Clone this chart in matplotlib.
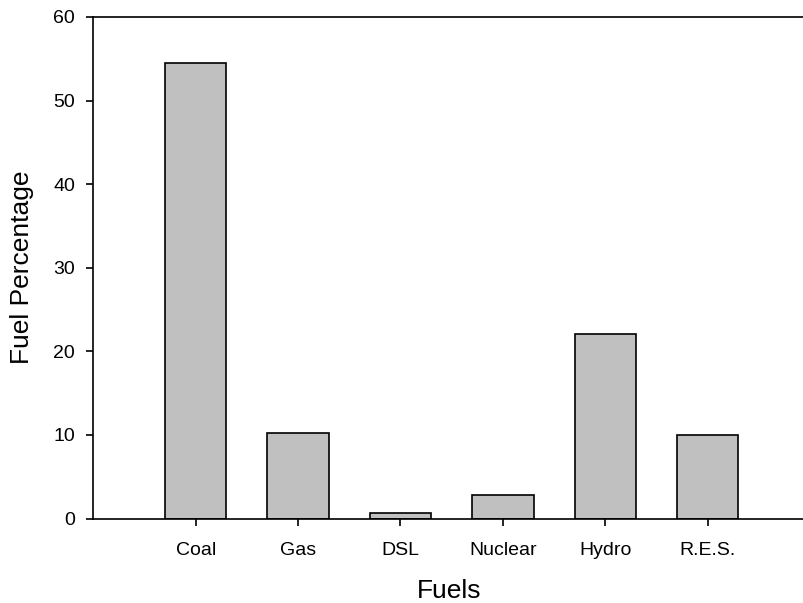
import matplotlib
matplotlib.use("Agg")
import matplotlib.pyplot as plt

fuels = ["Coal", "Gas", "DSL", "Nuclear", "Hydro", "R.E.S."]
percentages = [54.5, 10.25, 0.7, 2.8, 22.05, 9.95]

plt.rcParams["font.family"] = ["Liberation Sans", "DejaVu Sans"]

fig = plt.figure(figsize=(8.04, 6.03), dpi=100)
ax = fig.add_axes([0.116, 0.140, 0.884, 0.832])

positions = list(range(1, len(fuels) + 1))
ax.bar(positions, percentages, width=0.6, color="#c0c0c0",
       edgecolor="black", linewidth=1.2, zorder=2)

ax.set_xlim(0, 6.94)
ax.set_ylim(0, 60)
ax.set_yticks([0, 10, 20, 30, 40, 50, 60])
ax.set_xticks(positions)
ax.set_xticklabels(fuels)

ax.spines["right"].set_visible(False)
for side in ["left", "bottom", "top"]:
    ax.spines[side].set_linewidth(1.2)

ax.tick_params(axis="both", direction="out", length=5, width=1.2,
               labelsize=14, pad=8)
ax.tick_params(axis="x", pad=12)

ax.set_xlabel("Fuels", fontsize=19, labelpad=14)
ax.set_ylabel("Fuel Percentage", fontsize=19, labelpad=14)

fig.savefig("out.png", dpi=100)
